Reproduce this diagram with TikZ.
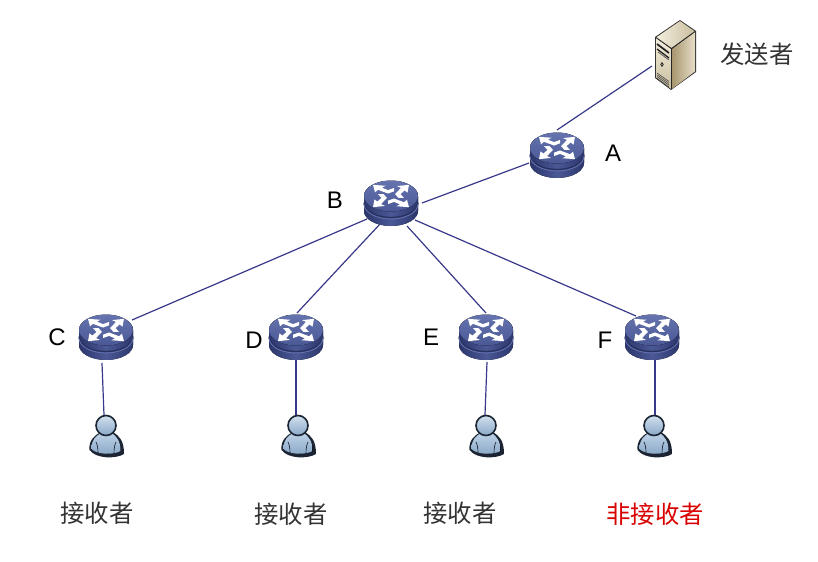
\documentclass[tikz,border=0pt]{standalone}
\usepackage{fontspec}
\setmainfont{Liberation Sans}
\newfontfamily\cjk{Noto Sans CJK SC}
\usetikzlibrary{shapes.geometric}
\definecolor{linkc}{HTML}{38388A}
\definecolor{rdark}{HTML}{2C366C}
\definecolor{rmid}{HTML}{4A5896}
\definecolor{rtop}{HTML}{6573AE}
\definecolor{rband}{HTML}{27305F}
\definecolor{srvA}{HTML}{F3EEDD}
\definecolor{srvB}{HTML}{C9BE9F}
\definecolor{srvC}{HTML}{A8966F}
\definecolor{srvD}{HTML}{E6DEC8}
\definecolor{usrA}{HTML}{BDD2E6}
\definecolor{usrB}{HTML}{8AA8C8}
\definecolor{usrK}{HTML}{1C2433}
\tikzset{
  x=0.75pt,y=-0.75pt,
  link/.style={draw=linkc,line width=0.9pt},
  hub/.style={ellipse,minimum width=44.5pt,minimum height=38pt,inner sep=0pt},
  person/.style={circle,minimum size=30pt,inner sep=0pt},
  zh/.style={font=\cjk\fontsize{18.3}{20}\selectfont,text=black!80},
  lat/.style={font=\fontsize{18}{20}\selectfont,text=black},
  arw/.style={fill=white,draw=none},
  pics/routerpic/.style={code={
    \fill[left color=rdark,right color=rdark,middle color=rmid]
      (-27,-7) -- (-27,8) arc[start angle=180,end angle=0,x radius=27,y radius=15]
      -- (27,-7) arc[start angle=0,end angle=-180,x radius=27,y radius=15] -- cycle;
    \draw[rband,line width=1pt] (-27,-0.5) arc[start angle=180,end angle=0,x radius=27,y radius=15];
    \draw[rtop,line width=0.6pt] (-27,1) arc[start angle=180,end angle=0,x radius=27,y radius=15];
    \fill[top color=rtop,bottom color=rmid] (0,-7) ellipse[x radius=27,y radius=15.5];
    \begin{scope}[shift={(0,-7)},yscale=0.62]
      \foreach \r in {0,90,180,270}{
        \begin{scope}[rotate=\r]
          \fill[arw] (-18,-18) -- (-5.5,-16.5) -- (-9,-13.5) -- (-3,-9.5) -- (3,-13) -- (3,-7.5) -- (-3,-4) -- (-13,-10) -- (-16,-6) -- cycle;
        \end{scope}
      }
    \end{scope}
  }},
  pics/userpic/.style={code={
    \fill[usrK] (-16.5,10) .. controls (-17.5,0) and (-11,-5) .. (-5,-8) -- (7,-8)
      .. controls (13,-4) and (18,0) .. (18,14) .. controls (10,19) and (-10,19) .. (-16.5,10) -- cycle;
    \fill[top color=usrA,bottom color=usrB]
      (-14.5,9) .. controls (-15,0) and (-10,-4) .. (-5,-7) -- (6,-7)
      .. controls (11,-3) and (14.5,1) .. (14.5,11) .. controls (8,15) and (-9,15) .. (-14.5,9) -- cycle;
    \draw[usrK,line width=0.5pt] (-8,13) .. controls (-8,7) and (-9,4) .. (-10,2);
    \draw[usrK,line width=0.5pt] (8,14) .. controls (8,7) and (9,4) .. (10,2);
    \fill[top color=usrA!70!white,bottom color=usrB] (0,-14.5) circle[radius=10];
    \draw[usrK,line width=1.2pt] (0,-14.5) circle[radius=10];
  }},
  pics/serverpic/.style={code={
    \fill[black!80] (680,20) -- (696,31) -- (696,72) -- (671,90) -- (655,78) -- (655,37) -- cycle;
    \fill[top color=srvA,bottom color=srvB] (656,38) -- (671,49) -- (671,89) -- (656,77.5) -- cycle;
    \fill[left color=srvC,right color=srvD] (672,49) -- (695,32) -- (695,71.5) -- (672,89) -- cycle;
    \fill[left color=srvA,right color=srvB] (680,21) -- (695,31.5) -- (671.5,48.5) -- (656,37.5) -- cycle;
    \draw[black!85,line width=0.6pt] (656,37.5) -- (671.5,48.5) -- (695,31.5) (671.5,48.5) -- (671.5,89);
    \draw[black!85,line width=1.3pt] (657,44) -- (669,53);
    \draw[black!85,line width=1pt] (657,49) -- (669,58);
    \draw[black!70,line width=0.5pt] (658,52) -- (669,60);
    \draw[black!85,line width=0.6pt] (662,64.5) circle[x radius=1.2,y radius=1.8];
    \foreach \d in {0,1.8,3.6,5.4}{\draw[black!75,line width=0.4pt] (657,73+\d) -- (669,81.5+\d);}
  }}
}
\begin{document}
\begin{tikzpicture}
\useasboundingbox (0,0) rectangle (818,561);
% nodes
\node[hub] (A) at (557,155) {};
\node[hub] (B) at (391,203) {};
\node[hub] (C) at (106,337) {};
\node[hub] (D) at (296,337) {};
\node[hub] (E) at (486,337) {};
\node[hub] (F) at (652,337) {};
\node[minimum width=30pt,minimum height=40pt,inner sep=0pt] (S) at (675,55) {};
\node[person] (UC) at (106,440) {};
\node[person] (UD) at (298,440) {};
\node[person] (UE) at (486,440) {};
\node[person] (UF) at (654,440) {};
% links
\draw[link] ([shift={(-23,11)}]S.center) -- ([shift={(0,-25)}]A.center);
\draw[link] ([shift={(-28,8)}]A.center) -- ([shift={(31,0)}]B.center);
\draw[link] ([shift={(-24,16)}]B.center) -- ([shift={(26,-17)}]C.center);
\draw[link] ([shift={(-11,21)}]B.center) -- ([shift={(1,-24)}]D.center);
\draw[link] ([shift={(16,23)}]B.center) -- ([shift={(0,-24)}]E.center);
\draw[link] ([shift={(24,17)}]B.center) -- ([shift={(-16,-21)}]F.center);
\draw[link] ([shift={(-4,26)}]C.center) -- ([shift={(-2,-25)}]UC.center);
\draw[link] ([shift={(0,23)}]D.center) -- ([shift={(-2,-25)}]UD.center);
\draw[link] ([shift={(1,25)}]E.center) -- ([shift={(-1,-25)}]UE.center);
\draw[link] ([shift={(3,23)}]F.center) -- ([shift={(1,-25)}]UF.center);
% icons
\foreach \n in {A,B,C,D,E,F}{\pic at (\n) {routerpic};}
\foreach \n in {UC,UD,UE,UF}{\pic at (\n) {userpic};}
\pic at (0,0) {serverpic};
% labels
\node[zh] (t0) at (757,54) {发送者};
\node[lat] (la) at (613,153) {A};
\node[lat] (lb) at (335,200) {B};
\node[lat] (lc) at (57,337) {C};
\node[lat] (ld) at (254,340) {D};
\node[lat] (le) at (431,337) {E};
\node[lat] (lf) at (605,340) {F};
\node[zh] (t1) at (97,513) {接收者};
\node[zh] (t2) at (291,514) {接收者};
\node[zh] (t3) at (460,513) {接收者};
\node[zh,text=red!85!black] (t4) at (655,514) {非接收者};
\end{tikzpicture}
\end{document}
